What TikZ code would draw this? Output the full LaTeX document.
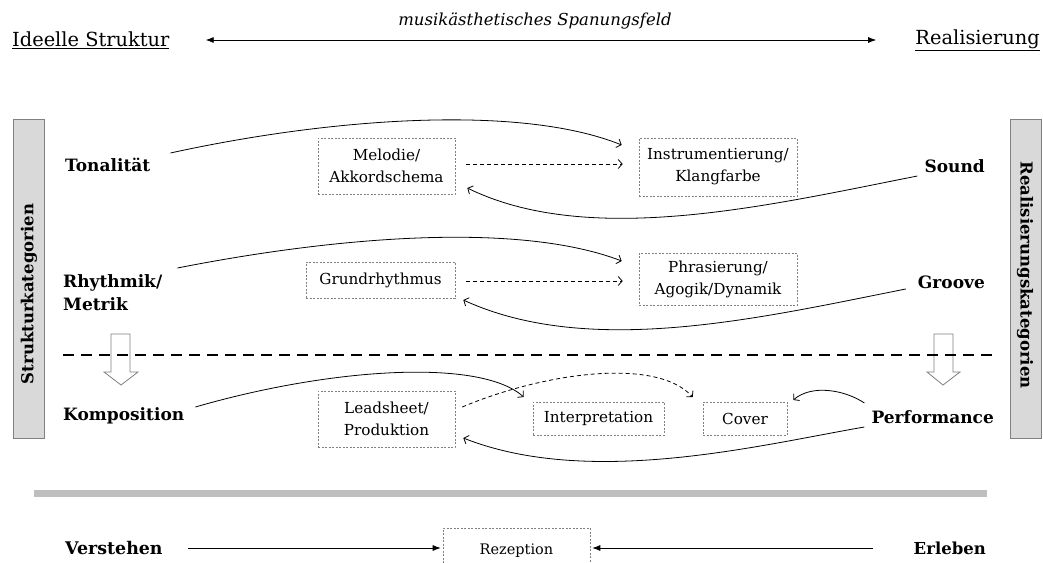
\documentclass[tikz,border=0pt]{standalone}
\usepackage{fontspec}
\setmainfont{DejaVu Serif}
\usetikzlibrary{arrows.meta,calc}
\definecolor{barfill}{HTML}{D9D9D9}
\definecolor{bargray}{HTML}{808080}
\definecolor{linegray}{HTML}{BFBFBF}
\tikzset{
  lbl/.style={inner sep=0pt,font=\bfseries\fontsize{17}{23}\selectfont},
  ttl/.style={inner sep=0pt,font=\fontsize{19.4}{22}\selectfont},
  dbox/.style={draw=gray,line width=0.6pt,dash pattern=on 2pt off 1.5pt,align=center,
    inner sep=0pt,font=\fontsize{15.2}{22}\selectfont},
  bar/.style={draw=bargray,fill=barfill,line width=0.8pt,inner sep=0pt},
  bartext/.style={inner sep=0pt,font=\bfseries\fontsize{16.5}{18}\selectfont},
  conn/.style={line width=0.8pt,-{Straight Barb[length=4pt,width=9pt]}},
  dconn/.style={conn,dash pattern=on 4pt off 3pt},
  farrow/.style={line width=0.8pt,-{Latex[length=8pt,width=6pt]}},
  blockarrow/.style={draw=bargray,fill=white,line width=0.8pt},
}
\begin{document}
\begin{tikzpicture}[x=1pt,y=-1pt]
\useasboundingbox (0,0) rectangle (1043,562);
\clip (0,0) rectangle (1043,562);
% top
\node[ttl,anchor=west] (ideell) at (12,40) {\underline{Ideelle Struktur}};
\node[ttl,anchor=east] (realis) at (1040,40) {\underline{Realisierung}};
\node[inner sep=0pt,font=\itshape\fontsize{16.5}{18}\selectfont] (spann) at (535,21) {musikästhetisches Spanungsfeld};
\draw[line width=0.8pt,{Latex[length=8pt,width=6pt]}-{Latex[length=8pt,width=6pt]}]
  ($(ideell.east)+(36,0)$) -- ($(realis.west)+(-39,0)$);
% side bars
\node[bar,minimum width=31,minimum height=319] (sk) at (28.5,278.5) {};
\node[bartext,rotate=90] (skt) at (29,294) {Strukturkategorien};
\node[bar,minimum width=31,minimum height=319] (rk) at (1025.5,278.5) {};
\node[bartext,rotate=-90] (rkt) at (1025,275) {Realisierungskategorien};
% labels
\node[lbl,anchor=west] (ton) at (65,165) {Tonalität};
\node[lbl,anchor=east] (sound) at (985,166) {Sound};
\node[lbl,anchor=west,align=left] (rhy) at (63,293) {Rhythmik/\\Metrik};
\node[lbl,anchor=east] (groove) at (985,282) {Groove};
\node[lbl,anchor=west] (komp) at (63,416) {Komposition};
\node[lbl,anchor=east] (perf) at (994,417) {Performance};
% boxes
\node[dbox,minimum width=137,minimum height=56] (mel) at (386.5,166) {Melodie/\\Akkordschema};
\node[dbox,minimum width=158,minimum height=58] (instr) at (718,167) {Instrumentierung/\\Klangfarbe};
\node[dbox,minimum width=149,minimum height=36] (grund) at (380.5,280) {Grundrhythmus};
\node[dbox,minimum width=158,minimum height=52] (phras) at (718,279) {Phrasierung/\\Agogik/Dynamik};
\node[dbox,minimum width=137,minimum height=56] (lead) at (386.5,419) {Leadsheet/\\Produktion};
\node[dbox,minimum width=131,minimum height=33] (interp) at (598.5,418.5) {Interpretation};
\node[dbox,minimum width=84,minimum height=33] (cover) at (745,418.5) {Cover};
\node[dbox,minimum width=147,minimum height=44,text depth=0pt,font=\fontsize{14.5}{18}\selectfont] (rez) at (516.5,550) {\raisebox{1pt}{Rezeption}};
% connectors row 1
\draw[conn] ($(ton.east)+(20,-12)$) .. controls (330,118) and (520,104) .. ($(instr.west)+(-17,-22)$);
\draw[dconn] ($(mel.east)+(11,-2)$) -- ($(instr.west)+(-16,-3)$);
\draw[conn] ($(sound.west)+(-7,10)$) .. controls (770,205) and (590,248) .. ($(mel.east)+(12,22)$);
% row 2
\draw[conn] ($(rhy.east)+(15,-25)$) .. controls (340,236) and (520,222) .. ($(phras.west)+(-17,-18)$);
\draw[dconn] ($(grund.east)+(11,1)$) -- ($(phras.west)+(-16,2)$);
\draw[conn] ($(groove.west)+(-12,7)$) .. controls (760,318) and (590,358) .. ($(grund.east)+(8,20)$);
% block arrows
\draw[blockarrow] (111,334) -- (130,334) -- (130,372) -- (138,372) -- (121,385) -- (104,372) -- (111,372) -- cycle;
\draw[blockarrow] (934,334) -- (953,334) -- (953,372) -- (960,372) -- (943,385) -- (927,372) -- (934,372) -- cycle;
% dashed separator
\draw[line width=2.2pt,dash pattern=on 11pt off 7pt] (63,355) -- (993,355);
% row 3
\draw[conn] ($(komp.east)+(11,-9)$) .. controls (330,368) and (480,358) .. ($(interp.west)+(-9,-21.5)$);
\draw[dconn] ($(lead.east)+(7,-12)$) .. controls (540,374) and (655,356) .. ($(cover.west)+(-10,-21.5)$);
\draw[conn] ($(perf.west)+(-7,-14)$) .. controls (845,390) and (812,384) .. ($(cover.east)+(6,-18.5)$);
\draw[conn] ($(perf.west)+(-7,10)$) .. controls (760,445) and (590,488) .. ($(lead.east)+(8,19)$);
% gray line
\draw[linegray,line width=7pt] (34,493) -- (987,493);
% bottom
\node[lbl,anchor=west,font=\bfseries\fontsize{17.4}{20}\selectfont] (verst) at (65,548) {Verstehen};
\node[lbl,anchor=east,font=\bfseries\fontsize{16.5}{20}\selectfont] (erl) at (986,548) {Erleben};
\draw[farrow] ($(verst.east)+(25,0)$) -- ($(rez.west)+(-2,-2)$);
\draw[farrow] ($(erl.west)+(-41,0)$) -- ($(rez.east)+(2,-2)$);
\end{tikzpicture}
\end{document}
